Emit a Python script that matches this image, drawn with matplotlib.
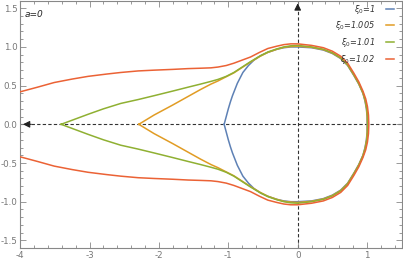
import numpy as np
import matplotlib
matplotlib.use("Agg")
import matplotlib.pyplot as plt
from matplotlib.ticker import MultipleLocator

# upper halves of each curve (lower half is the mirror image)
blue_x = [-1.06, -1.03, -1.0, -0.97, -0.94, -0.87, -0.79, -0.71, -0.63, -0.53, -0.43, -0.3, -0.2, -0.1, 0.0,
          0.2, 0.37, 0.5, 0.62, 0.72, 0.81, 0.88, 0.94, 0.97, 0.99, 1.0, 1.0]
blue_y = [0.0, 0.1, 0.2, 0.29, 0.37, 0.53, 0.67, 0.76, 0.83, 0.89, 0.93, 0.97, 0.99, 1.0, 1.0,
          0.99, 0.96, 0.915, 0.85, 0.76, 0.63, 0.52, 0.40, 0.30, 0.2, 0.1, 0.0]

orange_x = [-2.29, -2.07, -1.8, -1.58, -1.4, -1.25, -1.15, -1.03, -0.92, -0.8, -0.68, -0.55, -0.43, -0.3, -0.2, -0.1, 0.0,
            0.2, 0.37, 0.5, 0.62, 0.72, 0.81, 0.88, 0.94, 0.972, 0.992, 1.002, 1.005]
orange_y = [0.0, 0.12, 0.25, 0.36, 0.45, 0.52, 0.56, 0.615, 0.665, 0.735, 0.805, 0.875, 0.93, 0.97, 0.995, 1.005, 1.01,
            0.995, 0.965, 0.92, 0.855, 0.765, 0.635, 0.525, 0.405, 0.305, 0.205, 0.105, 0.0]

green_x = [-3.41, -3.2, -3.02, -2.8, -2.55, -2.3, -2.07, -1.8, -1.58, -1.4, -1.25, -1.15, -1.03, -0.92, -0.8, -0.68,
           -0.55, -0.43, -0.3, -0.2, -0.1, 0.0,
           0.2, 0.37, 0.5, 0.62, 0.72, 0.81, 0.88, 0.94, 0.975, 0.995, 1.007, 1.01]
green_y = [0.0, 0.07, 0.13, 0.2, 0.27, 0.32, 0.37, 0.43, 0.48, 0.52, 0.555, 0.58, 0.62, 0.67, 0.74, 0.81,
           0.88, 0.935, 0.975, 1.0, 1.015, 1.02,
           1.0, 0.97, 0.925, 0.86, 0.77, 0.64, 0.53, 0.41, 0.31, 0.21, 0.11, 0.0]

red_x = [-4.0, -3.75, -3.51, -3.25, -3.02, -2.75, -2.55, -2.3, -2.07, -1.8, -1.58, -1.4, -1.25, -1.15, -1.03, -0.92,
         -0.8, -0.68, -0.55, -0.43, -0.3, -0.2, -0.1, 0.0,
         0.2, 0.37, 0.5, 0.62, 0.72, 0.81, 0.88, 0.94, 0.98, 1.005, 1.02, 1.025]
red_y = [0.42, 0.48, 0.54, 0.585, 0.62, 0.65, 0.67, 0.69, 0.70, 0.71, 0.72, 0.725, 0.73, 0.74, 0.76, 0.79,
         0.83, 0.87, 0.93, 0.98, 1.01, 1.03, 1.04, 1.04,
         1.02, 0.99, 0.945, 0.88, 0.79, 0.66, 0.55, 0.43, 0.33, 0.23, 0.12, 0.0]

labels = [r'$\xi_0$=1', r'$\xi_0$=1.005', r'$\xi_0$=1.01', r'$\xi_0$=1.02']
colors = ['#5E81B5', '#E19C24', '#8FB032', '#EB6235']
series = [(blue_x, blue_y), (orange_x, orange_y), (green_x, green_y), (red_x, red_y)]


def mirror(xs, ys):
    xs = np.asarray(xs)
    ys = np.asarray(ys)
    return np.concatenate([xs, xs[::-1]]), np.concatenate([ys, -ys[::-1]])


fig = plt.figure(figsize=(4.03, 2.62), dpi=100)
ax = fig.add_axes([0.05, 0.053, 0.947, 0.945])

# dashed axes through the origin
ax.plot([-4, 1.5], [0, 0], ls='--', color='#333333', lw=0.8, dashes=(3, 2), zorder=1)
ax.plot([0, 0], [-1.6, 1.6], ls='--', color='#333333', lw=0.8, dashes=(3, 2), zorder=1)
ax.annotate('', xy=(0, 1.6), xytext=(0, 1.45),
            arrowprops=dict(arrowstyle='-|>', color='#222222', lw=0.8, mutation_scale=10))
ax.annotate('', xy=(-4, 0), xytext=(-3.8, 0),
            arrowprops=dict(arrowstyle='-|>', color='#222222', lw=0.8, mutation_scale=10))

for (xs, ys), c, lab in zip(series, colors, labels):
    mx, my = mirror(xs, ys)
    ax.plot(mx, my, color=c, lw=1.1, label=lab, zorder=3, solid_joinstyle='round')

ax.set_xlim(-4, 1.5)
ax.set_ylim(-1.6, 1.6)
ax.xaxis.set_major_locator(MultipleLocator(1))
ax.xaxis.set_minor_locator(MultipleLocator(0.2))
ax.yaxis.set_major_locator(MultipleLocator(0.5))
ax.yaxis.set_minor_locator(MultipleLocator(0.1))
ax.xaxis.set_major_formatter(plt.FuncFormatter(lambda v, p: f'{v:.0f}'))
ax.yaxis.set_major_formatter(plt.FuncFormatter(lambda v, p: f'{v:.1f}'))
ax.tick_params(which='both', direction='in', top=True, right=True, colors='#888888',
               labelcolor='#777777', labelsize=6.3, width=0.6)
ax.tick_params(which='major', length=4, pad=2)
ax.tick_params(which='minor', length=2)
for s in ax.spines.values():
    s.set_color('#888888')
    s.set_linewidth(0.8)

ax.text(0.012, 0.935, 'a=0', transform=ax.transAxes, fontsize=6.5, style='italic', color='#222222')

leg = ax.legend(loc='upper right', frameon=False, markerfirst=False, fontsize=5.9,
                handlelength=1.0, labelspacing=0.45, borderaxespad=0.0, borderpad=0.25,
                handletextpad=1.3, bbox_to_anchor=(0.985, 1.0))
for t in leg.get_texts():
    t.set_style('italic')
    t.set_color('#333333')

fig.savefig('out.png', dpi=100)
